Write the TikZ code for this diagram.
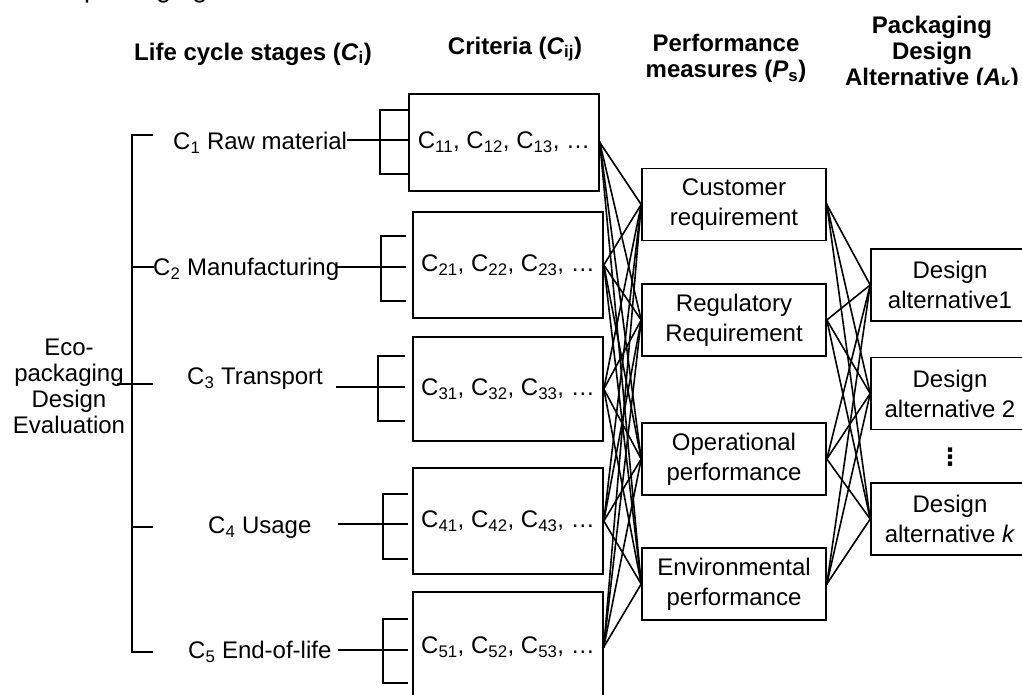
\documentclass[tikz,border=0pt]{standalone}
\usepackage{fontspec}
\setmainfont{Liberation Sans}
\newfontfamily\dejavu{DejaVu Sans}
\tikzset{
  every node/.style={font=\fontsize{24}{30}\selectfont, inner sep=0pt},
  ln/.style={line width=1.6pt, line cap=rect},
  cbox/.style={draw, line width=1.6pt, minimum width=190pt, align=center},
  pbox/.style={draw, line width=1.6pt, minimum width=184pt, minimum height=72pt, align=center},
  dbox/.style={draw, line width=1.6pt, minimum width=158pt, minimum height=72pt, align=center},
  hdr/.style={font=\fontsize{24}{26}\selectfont\bfseries, align=center},
  stage/.style={anchor=west, text height=17pt, text depth=0pt},
}
\begin{document}
\begin{tikzpicture}[x=1pt,y=-1pt]
\useasboundingbox (0,0) rectangle (1022,695);
\fill[white] (0,0) rectangle (1022,695);
\clip (0,0) rectangle (1022,695);

% remnant of a text line above the picture
\node[anchor=base west, font=\fontsize{27}{30}\selectfont] (cap) at (84,-2) {packaging};

% headers
\node[hdr] (h1) at (253,54) {Life cycle stages (\textit{C}\textsubscript{i})};
\node[hdr] (h2) at (515,49) {Criteria (\textit{C}\textsubscript{ij})};
\node[hdr, anchor=north] (h3) at (726,34) {Performance\\measures (\textit{P}\textsubscript{s})};
\begin{scope}
  \clip (820,0) rectangle (1022,85);
  \node[hdr, anchor=north] (h4) at (932,16) {Packaging\\Design\\Alternative (\textit{A}\textsubscript{k})};
\end{scope}

% goal
\node[align=center, font=\fontsize{24}{26}\selectfont] (eco) at (69,386) {Eco-\\packaging\\Design\\Evaluation};

% life cycle stages
\node[stage] (s1) at (173,141) {C\textsubscript{1} Raw material};
\node[stage] (s2) at (153,267) {C\textsubscript{2} Manufacturing};
\node[stage] (s3) at (187,376) {C\textsubscript{3} Transport};
\node[stage] (s4) at (208,525) {C\textsubscript{4} Usage};
\node[stage] (s5) at (188,650) {C\textsubscript{5} End-of-life};

% main bracket
\coordinate (mt) at (132,135);
\coordinate (mb) at (132,652);
\coordinate (mtt) at (152,135);
\coordinate (mbt) at (152,652);
\coordinate (m2) at (132,267);
\coordinate (m3a) at (118,384);
\coordinate (m3b) at (152,384);
\coordinate (m4a) at (132,527);
\coordinate (m4b) at (152,527);
\draw[ln] (mtt) -- (mt) -- (mb) -- (mbt);
\draw[ln] (m2) -- (s2.west);
\draw[ln] (m3a) -- (m3b);
\draw[ln] (m4a) -- (m4b);

% sub brackets
\foreach \n/\xs/\bx/\xe/\ya/\yb/\yc in {1/348/380/407/110/140/174, 2/338/381/405/236/267/301, 3/337/378/404/356/387/421, 4/339/383/407/494/524/559, 5/339/383/407/619/650/683}{
  \coordinate (ls\n) at (\xs,\yb);
  \coordinate (le\n) at (\xe,\yb);
  \draw[ln] (ls\n) -- (le\n);
  \draw[ln] (\xe,\ya) -- (\bx,\ya) -- (\bx,\yc) -- (\xe,\yc);
}

% criteria boxes
\node[cbox, minimum height=97pt]  (k1) at (504,142.5) {C\textsubscript{11}, C\textsubscript{12}, C\textsubscript{13}, …};
\node[cbox, minimum height=106pt] (k2) at (508,265) {C\textsubscript{21}, C\textsubscript{22}, C\textsubscript{23}, …};
\node[cbox, minimum height=104pt] (k3) at (508,389) {C\textsubscript{31}, C\textsubscript{32}, C\textsubscript{33}, …};
\node[cbox, minimum height=106pt] (k4) at (508,521) {C\textsubscript{41}, C\textsubscript{42}, C\textsubscript{43}, …};
\node[cbox, minimum height=110pt] (k5) at (508,647) {C\textsubscript{51}, C\textsubscript{52}, C\textsubscript{53}, …};

% performance measures
\node[pbox] (p1) at (734,204.5) {Customer\\requirement};
\node[pbox] (p2) at (734,320) {Regulatory\\Requirement};
\node[pbox] (p3) at (734,459) {Operational\\performance};
\node[pbox] (p4) at (734,584) {Environmental\\performance};

% design alternatives
\node[dbox] (d1) at (950,285) {Design\\alternative1};
\node[dbox] (d2) at (950,393.5) {Design\\alternative 2};
\node[dbox] (d3) at (950,519) {Design\\alternative \textit{k}};
\node[font=\fontsize{24}{30}\selectfont\dejavu\bfseries] (vd) at (950,457) {⋮};

% connectors
\foreach \i in {1,...,5}{\foreach \j in {1,...,4}{\draw[ln] (k\i.east) -- (p\j.west);}}
\foreach \i in {1,...,4}{\foreach \j in {1,2,3}{\draw[ln] (p\i.east) -- (d\j.west);}}
\end{tikzpicture}
\end{document}
